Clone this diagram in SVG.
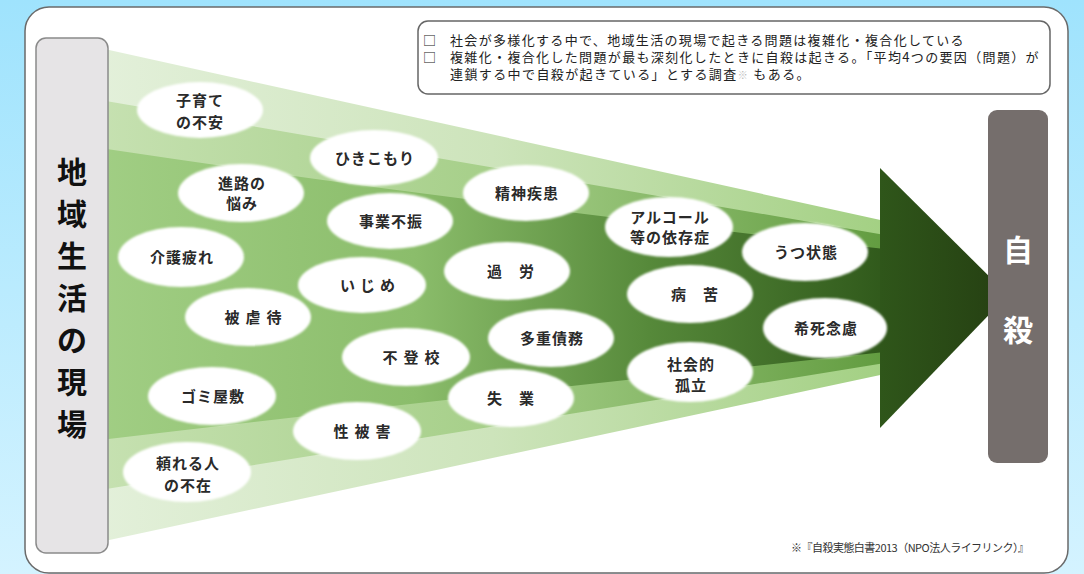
<svg xmlns="http://www.w3.org/2000/svg" width="1084" height="574" viewBox="0 0 1084 574">
<defs>
<linearGradient id="bg" x1="0" y1="0" x2="0" y2="1">
<stop offset="0" stop-color="#9fe3fd"/><stop offset="1" stop-color="#d4f3ff"/>
</linearGradient>
<linearGradient id="g1" gradientUnits="userSpaceOnUse" x1="100" y1="0" x2="885" y2="0">
<stop offset="0" stop-color="#e3f0da"/><stop offset="0.5" stop-color="#cde4bb"/><stop offset="1" stop-color="#a3d083"/>
</linearGradient>
<linearGradient id="g2" gradientUnits="userSpaceOnUse" x1="100" y1="0" x2="885" y2="0">
<stop offset="0" stop-color="#c6e1b1"/><stop offset="0.5" stop-color="#a6cf89"/><stop offset="1" stop-color="#629c40"/>
</linearGradient>
<linearGradient id="g3" gradientUnits="userSpaceOnUse" x1="100" y1="0" x2="885" y2="0">
<stop offset="0" stop-color="#a1ce84"/><stop offset="0.4" stop-color="#8bbd6b"/><stop offset="0.7" stop-color="#56893a"/><stop offset="1" stop-color="#30591b"/>
</linearGradient>
<linearGradient id="ga" x1="0" y1="0" x2="1" y2="0">
<stop offset="0" stop-color="#2f561a"/><stop offset="1" stop-color="#253f12"/>
</linearGradient>
<filter id="soft" x="-10%" y="-10%" width="120%" height="120%">
<feGaussianBlur stdDeviation="1.2"/>
</filter>
<style>
.el{fill:#ffffff;filter:url(#soft)}
.lb{font-family:"Noto Sans CJK JP","Noto Sans",sans-serif;font-size:15px;font-weight:700;fill:#2a2a2a;text-anchor:middle;letter-spacing:1px}
.note{font-family:"Noto Sans CJK JP","Noto Sans",sans-serif;font-size:13px;fill:#222;letter-spacing:1.4px}
.big{font-family:"Noto Sans CJK JP","Noto Sans",sans-serif;font-size:30px;font-weight:700;text-anchor:middle}
</style>
</defs>
<rect x="0" y="0" width="1084" height="574" fill="url(#bg)"/>
<rect x="25" y="7" width="1043" height="566" rx="24" fill="#ffffff" stroke="#6a6a6a" stroke-width="1.5"/>

<g id="funnel">
<path d="M100,48 L885,221 L885,374 L100,542 Z" fill="url(#g1)"/>
<path d="M100,100 L885,235 L885,363 L100,490 Z" fill="url(#g2)"/>
<path d="M100,148 Q480,205 885,249 L885,352 Q480,395 100,440 Z" fill="url(#g3)"/>
</g>

<g id="connectors">
<polygon points="880,168 1008,295 880,428" fill="url(#ga)"/>
</g>

<g id="node-source">
<rect x="36" y="38" width="72" height="515" rx="10" fill="#e6e4e6" stroke="#8a8a8a" stroke-width="1.5"/>
<text class="big" fill="#111"><tspan x="72" y="183">地</tspan><tspan x="72" y="225">域</tspan><tspan x="72" y="267">生</tspan><tspan x="72" y="309">活</tspan><tspan x="72" y="351">の</tspan><tspan x="72" y="393">現</tspan><tspan x="72" y="435">場</tspan></text>
</g>

<g id="node-target">
<rect x="988" y="110" width="60" height="353" rx="9" fill="#756e6c"/>
<text class="big" fill="#ffffff"><tspan x="1018" y="261">自</tspan><tspan x="1018" y="341">殺</tspan></text>
</g>

<g id="node-note">
<rect x="418" y="21" width="632" height="73" rx="10" fill="#ffffff" stroke="#666" stroke-width="1.5"/>
<text class="note" x="423" y="45">□</text>
<text class="note" x="450" y="45" textLength="515" lengthAdjust="spacing">社会が多様化する中で、地域生活の現場で起きる問題は複雑化・複合化している</text>
<text class="note" x="423" y="62">□</text>
<text class="note" x="450" y="62" textLength="590" lengthAdjust="spacing">複雑化・複合化した問題が最も深刻化したときに自殺は起きる。「平均4つの要因（問題）が</text>
<text class="note" x="450" y="79">連鎖する中で自殺が起きている」とする調査<tspan fill="#bbbbbb" font-size="10px">※</tspan> もある。</text>
</g>

<g id="n1"><ellipse class="el" cx="200" cy="110" rx="63" ry="28"/><text class="lb"><tspan x="200" y="106">子育て</tspan><tspan x="200" y="128">の不安</tspan></text></g>
<g id="n2"><ellipse class="el" cx="374" cy="158" rx="64" ry="28"/><text class="lb" x="375" y="164">ひきこもり</text></g>
<g id="n3"><ellipse class="el" cx="241" cy="193" rx="63" ry="29"/><text class="lb"><tspan x="242" y="189">進路の</tspan><tspan x="242" y="209">悩み</tspan></text></g>
<g id="n4"><ellipse class="el" cx="390" cy="221" rx="63" ry="28"/><text class="lb" x="391" y="227">事業不振</text></g>
<g id="n5"><ellipse class="el" cx="181" cy="257" rx="63" ry="30"/><text class="lb" x="182" y="263">介護疲れ</text></g>
<g id="n6"><ellipse class="el" cx="362" cy="285" rx="64" ry="28"/><text class="lb" x="370" y="291" style="letter-spacing:5px">いじめ</text></g>
<g id="n7"><ellipse class="el" cx="248" cy="317" rx="63" ry="29"/><text class="lb" x="256" y="323" style="letter-spacing:6px">被虐待</text></g>
<g id="n8"><ellipse class="el" cx="406" cy="357" rx="64" ry="29"/><text class="lb" x="414" y="363" style="letter-spacing:6px">不登校</text></g>
<g id="n9"><ellipse class="el" cx="212" cy="396" rx="64" ry="29"/><text class="lb" x="213" y="402">ゴミ屋敷</text></g>
<g id="n10"><ellipse class="el" cx="357" cy="431" rx="64" ry="29"/><text class="lb" x="365" y="437" style="letter-spacing:6px">性被害</text></g>
<g id="n11"><ellipse class="el" cx="187" cy="472" rx="64" ry="30"/><text class="lb"><tspan x="188" y="469">頼れる人</tspan><tspan x="188" y="491">の不在</tspan></text></g>
<g id="n12"><ellipse class="el" cx="511" cy="398" rx="63" ry="29"/><text class="lb" x="511" y="404">失　業</text></g>
<g id="n13"><ellipse class="el" cx="551" cy="338" rx="63" ry="29"/><text class="lb" x="552" y="344">多重債務</text></g>
<g id="n14"><ellipse class="el" cx="526" cy="193" rx="63" ry="28"/><text class="lb" x="527" y="199">精神疾患</text></g>
<g id="n15"><ellipse class="el" cx="507" cy="271" rx="63" ry="29"/><text class="lb" x="511" y="277">過　労</text></g>
<g id="n16"><ellipse class="el" cx="669" cy="227" rx="64" ry="30"/><text class="lb"><tspan x="670" y="223">アルコール</tspan><tspan x="670" y="243">等の依存症</tspan></text></g>
<g id="n17"><ellipse class="el" cx="690" cy="294" rx="63" ry="29"/><text class="lb" x="695" y="300">病　苦</text></g>
<g id="n18"><ellipse class="el" cx="690" cy="372" rx="63" ry="30"/><text class="lb"><tspan x="691" y="370">社会的</tspan><tspan x="691" y="391">孤立</tspan></text></g>
<g id="n19"><ellipse class="el" cx="805" cy="252" rx="63" ry="29"/><text class="lb" x="806" y="258">うつ状態</text></g>
<g id="n20"><ellipse class="el" cx="825" cy="328" rx="62" ry="30"/><text class="lb" x="826" y="334">希死念慮</text></g>

<g id="footnote">
<text x="791" y="552" font-family="Noto Sans CJK JP, Noto Sans, sans-serif" font-size="11" fill="#333" textLength="238" lengthAdjust="spacing">※『自殺実態白書2013（NPO法人ライフリンク）』</text>
</g>
</svg>
